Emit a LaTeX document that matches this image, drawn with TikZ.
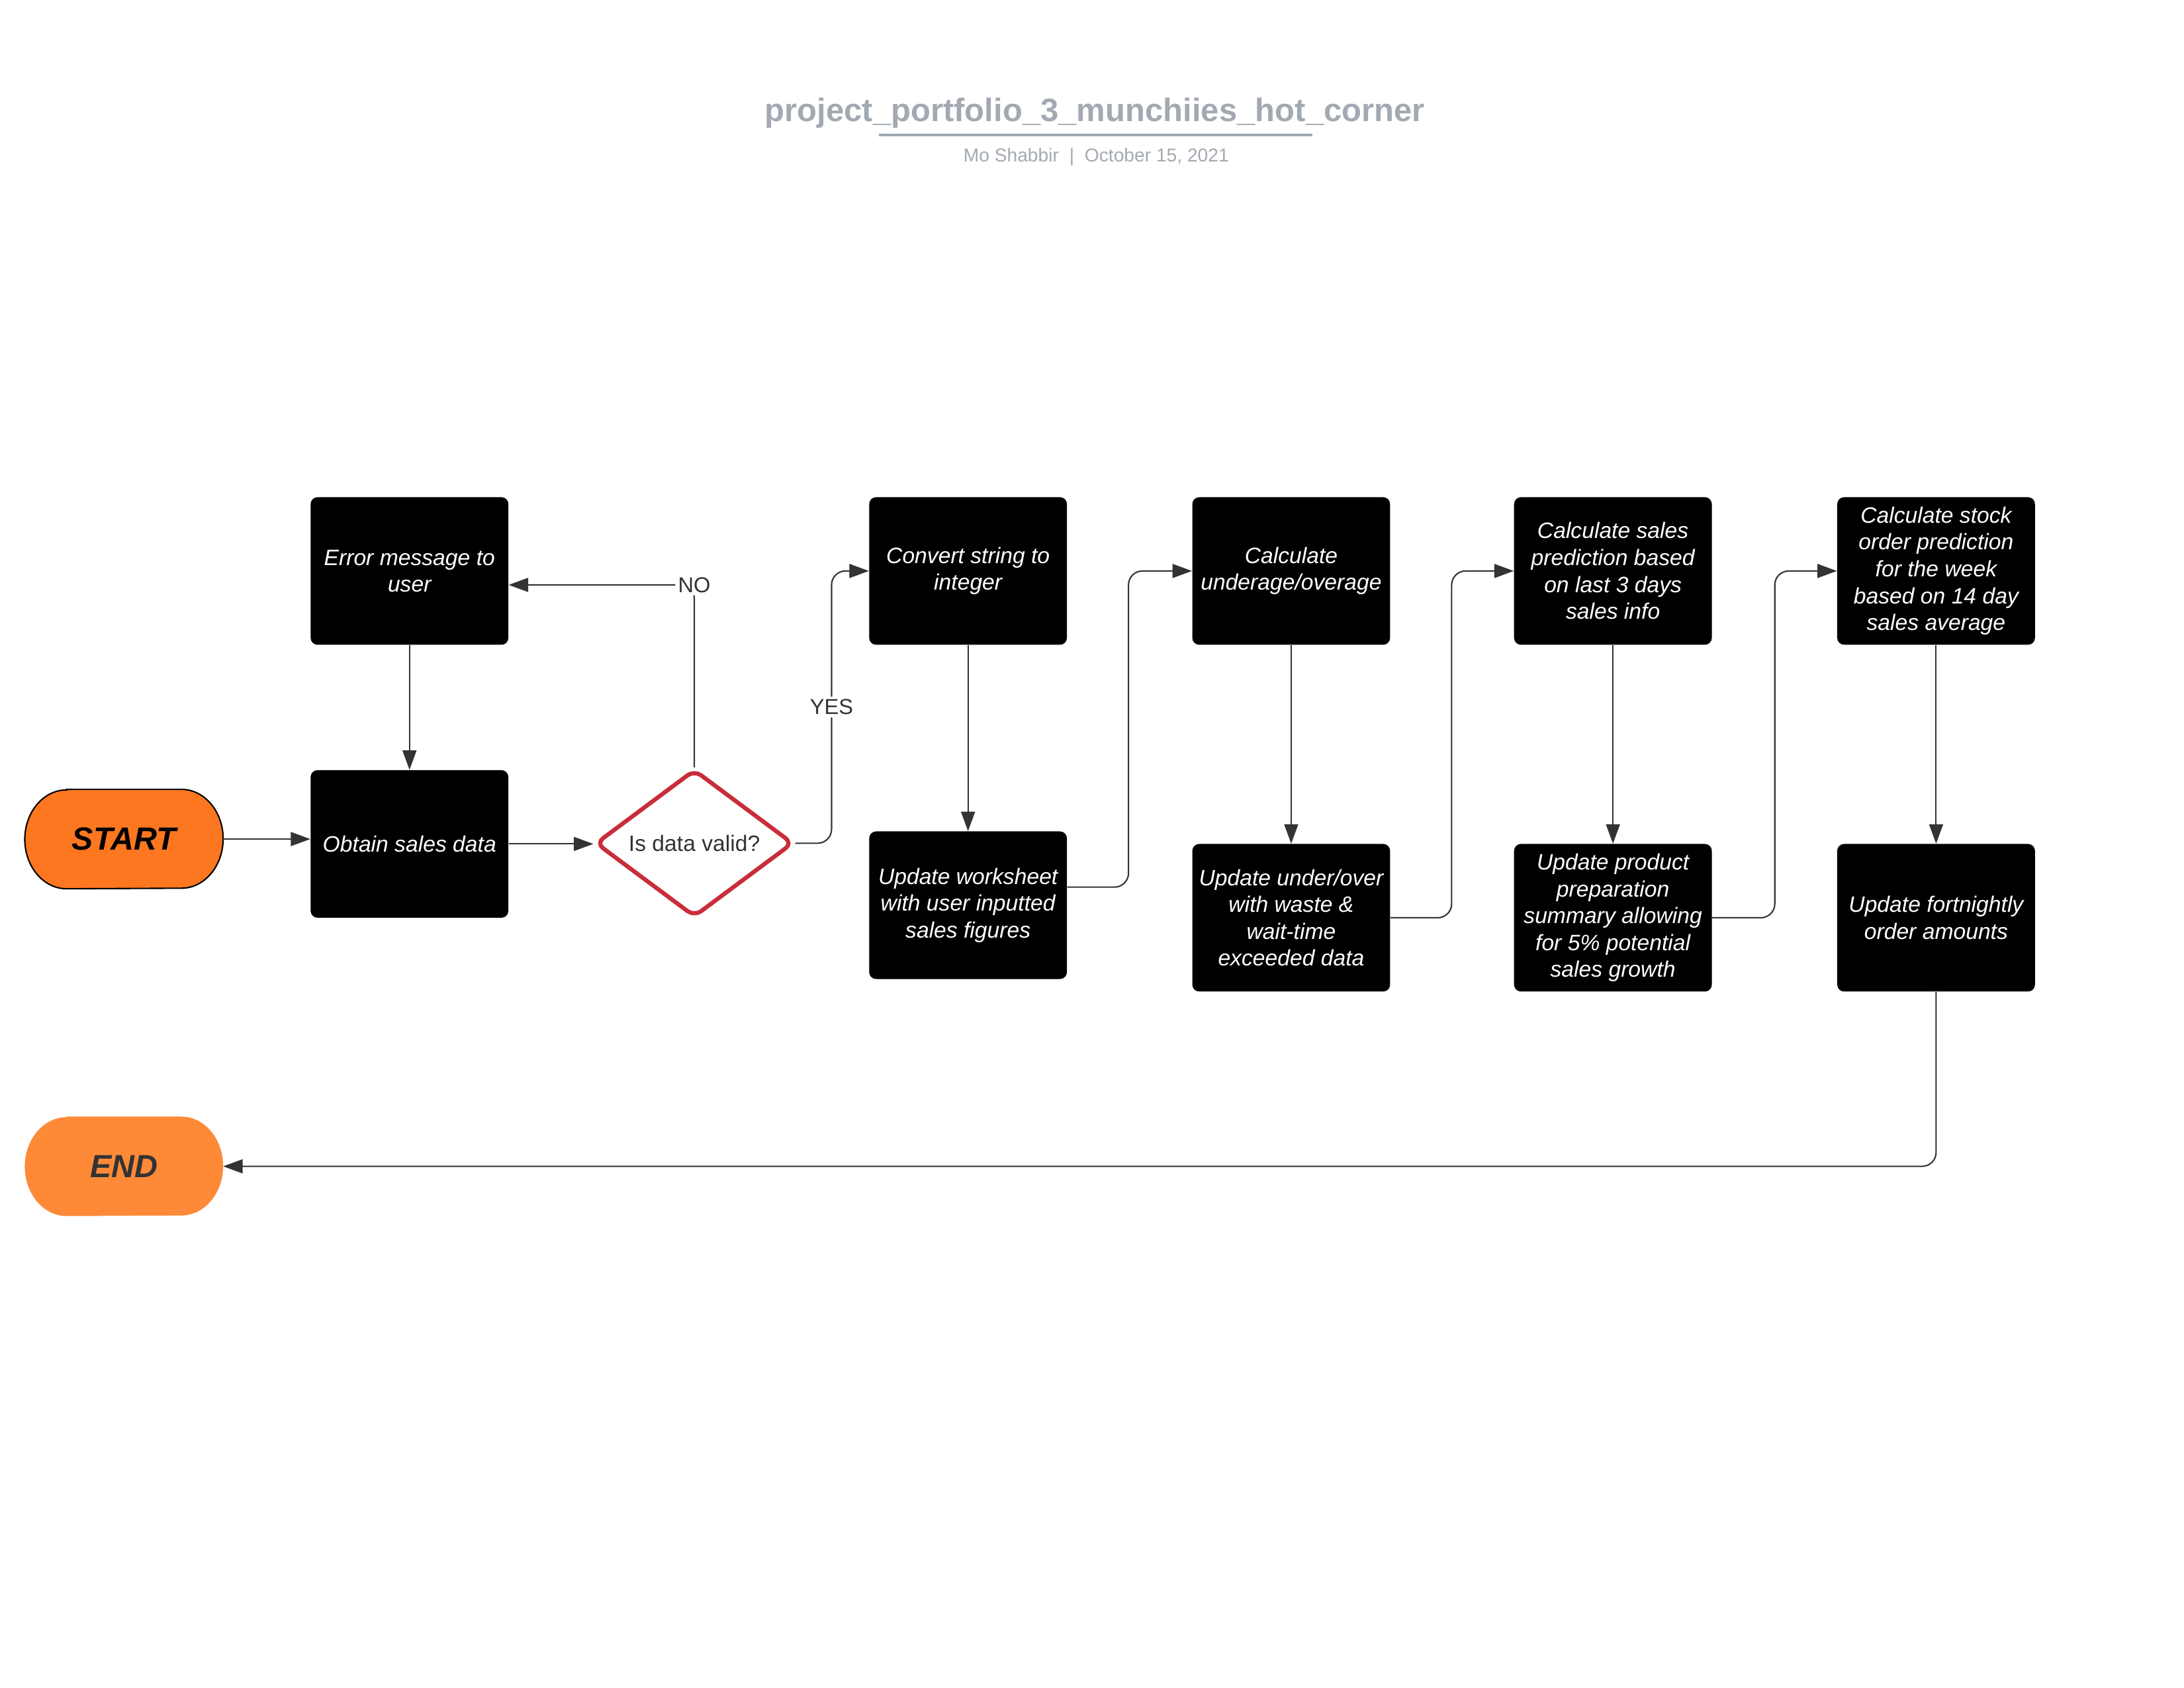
\documentclass[tikz,border=0pt]{standalone}
\usepackage{fontspec}
\setmainfont{Liberation Sans}
\usetikzlibrary{arrows.meta,shapes.geometric,backgrounds}
\definecolor{ttlgray}{HTML}{A3A9B2}
\definecolor{lnc}{HTML}{333333}
\definecolor{startor}{HTML}{FD7620}
\definecolor{endor}{HTML}{FE8A38}
\definecolor{dred}{HTML}{C92D39}
\begin{document}
\begin{tikzpicture}[x=1pt,y=1pt,
  procbox/.style={rectangle, fill=black, rounded corners=5pt, minimum width=142pt, minimum height=106pt,
    text=white, align=center, inner sep=2pt, font=\itshape\fontsize{16}{19.3}\selectfont},
  termnode/.style={rectangle, minimum width=142pt, minimum height=71pt, inner sep=0pt,
    font=\bfseries\itshape\fontsize{23}{27}\selectfont},
  decis/.style={diamond, draw=dred, line width=3pt, rounded corners=6pt, fill=white,
    minimum width=142pt, minimum height=104pt, inner sep=0pt, text=lnc,
    font=\fontsize{16}{19}\selectfont},
  conn/.style={draw=lnc, line width=1pt, rounded corners=10pt, -{Triangle[length=14pt,width=10pt]}},
  lbl/.style={fill=white, text=lnc, inner sep=2pt, font=\fontsize{15.5}{18}\selectfont}
]
\useasboundingbox (0,0) rectangle (1568,-1212);

% title block
\node[anchor=base, text=ttlgray, font=\bfseries\fontsize{23.3}{28}\selectfont] (title) at (786,-87)
  {project\_portfolio\_3\_munchiies\_hot\_corner};
\coordinate (ulA) at (631,-97);
\coordinate (ulB) at (942,-97);
\draw[ttlgray, line width=2pt] (ulA) -- (ulB);
\node[anchor=base, text=ttlgray, font=\fontsize{13.4}{16}\selectfont] (sub) at (787,-116)
  {Mo Shabbir\hspace{7.5pt}|\hspace{7.5pt}October 15, 2021};

% terminators
\node[termnode, text=black] (start) at (89,-602.5) {START};
\node[termnode, text=lnc] (end) at (89,-837.5) {END};
\begin{scope}[on background layer]
  \path[fill=startor, draw=black, line width=1pt]
    ([xshift=30pt]start.north west) -- ([xshift=-30pt]start.north east)
    arc[start angle=90, end angle=-90, x radius=30pt, y radius=35.5pt]
    -- ([xshift=30pt]start.south west)
    arc[start angle=270, end angle=90, x radius=30pt, y radius=35.5pt] -- cycle;
  \path[fill=endor]
    ([xshift=30pt]end.north west) -- ([xshift=-30pt]end.north east)
    arc[start angle=90, end angle=-90, x radius=30pt, y radius=35.5pt]
    -- ([xshift=30pt]end.south west)
    arc[start angle=270, end angle=90, x radius=30pt, y radius=35.5pt] -- cycle;
\end{scope}

% process boxes
\node[procbox] (error) at (294,-410) {Error message to\\user};
\node[procbox] (obtain) at (294,-606) {Obtain sales data};
\node[decis] (valid) at (498.5,-605.5) {Is data valid?};
\node[procbox] (convert) at (695,-410) {Convert string to\\integer};
\node[procbox] (worksheet) at (695,-650) {Update worksheet\\with user inputted\\sales figures};
\node[procbox] (calcunder) at (927,-410) {Calculate\\underage/overage};
\node[procbox] (updunder) at (927,-659) {Update under/over\\with waste \&\\wait-time\\exceeded data};
\node[procbox] (calcsales) at (1158,-410) {Calculate sales\\prediction based\\on last 3 days\\sales info};
\node[procbox] (updprod) at (1158,-659) {Update product\\preparation\\summary allowing\\for 5\% potential\\sales growth};
\node[procbox] (calcstock) at (1390,-410) {Calculate stock\\order prediction\\for the week\\based on 14 day\\sales average};
\node[procbox] (fortnight) at (1390,-659) {Update fortnightly\\order amounts};

% connectors
\draw[conn] (start.east) -- (start.east -| obtain.west);
\draw[conn] (obtain.east) -- (obtain.east -| valid.west);
\draw[conn] (valid.north) |- node[lbl]{NO} ([yshift=-10pt]error.east);
\draw[conn] (error) -- (obtain);
\draw[conn] (valid.east) -- ++(26pt,0) |- node[lbl,pos=0.25]{YES} (convert.west);
\draw[conn] (convert) -- (worksheet);
\draw[conn] ([yshift=13pt]worksheet.east) -- ++(44pt,0) |- (calcunder.west);
\draw[conn] (calcunder) -- (updunder);
\draw[conn] (updunder.east) -- ++(44pt,0) |- (calcsales.west);
\draw[conn] (calcsales) -- (updprod);
\draw[conn] (updprod.east) -- ++(45pt,0) |- (calcstock.west);
\draw[conn] (calcstock) -- (fortnight);
\draw[conn] (fortnight.south) |- (end.east);
\end{tikzpicture}
\end{document}
